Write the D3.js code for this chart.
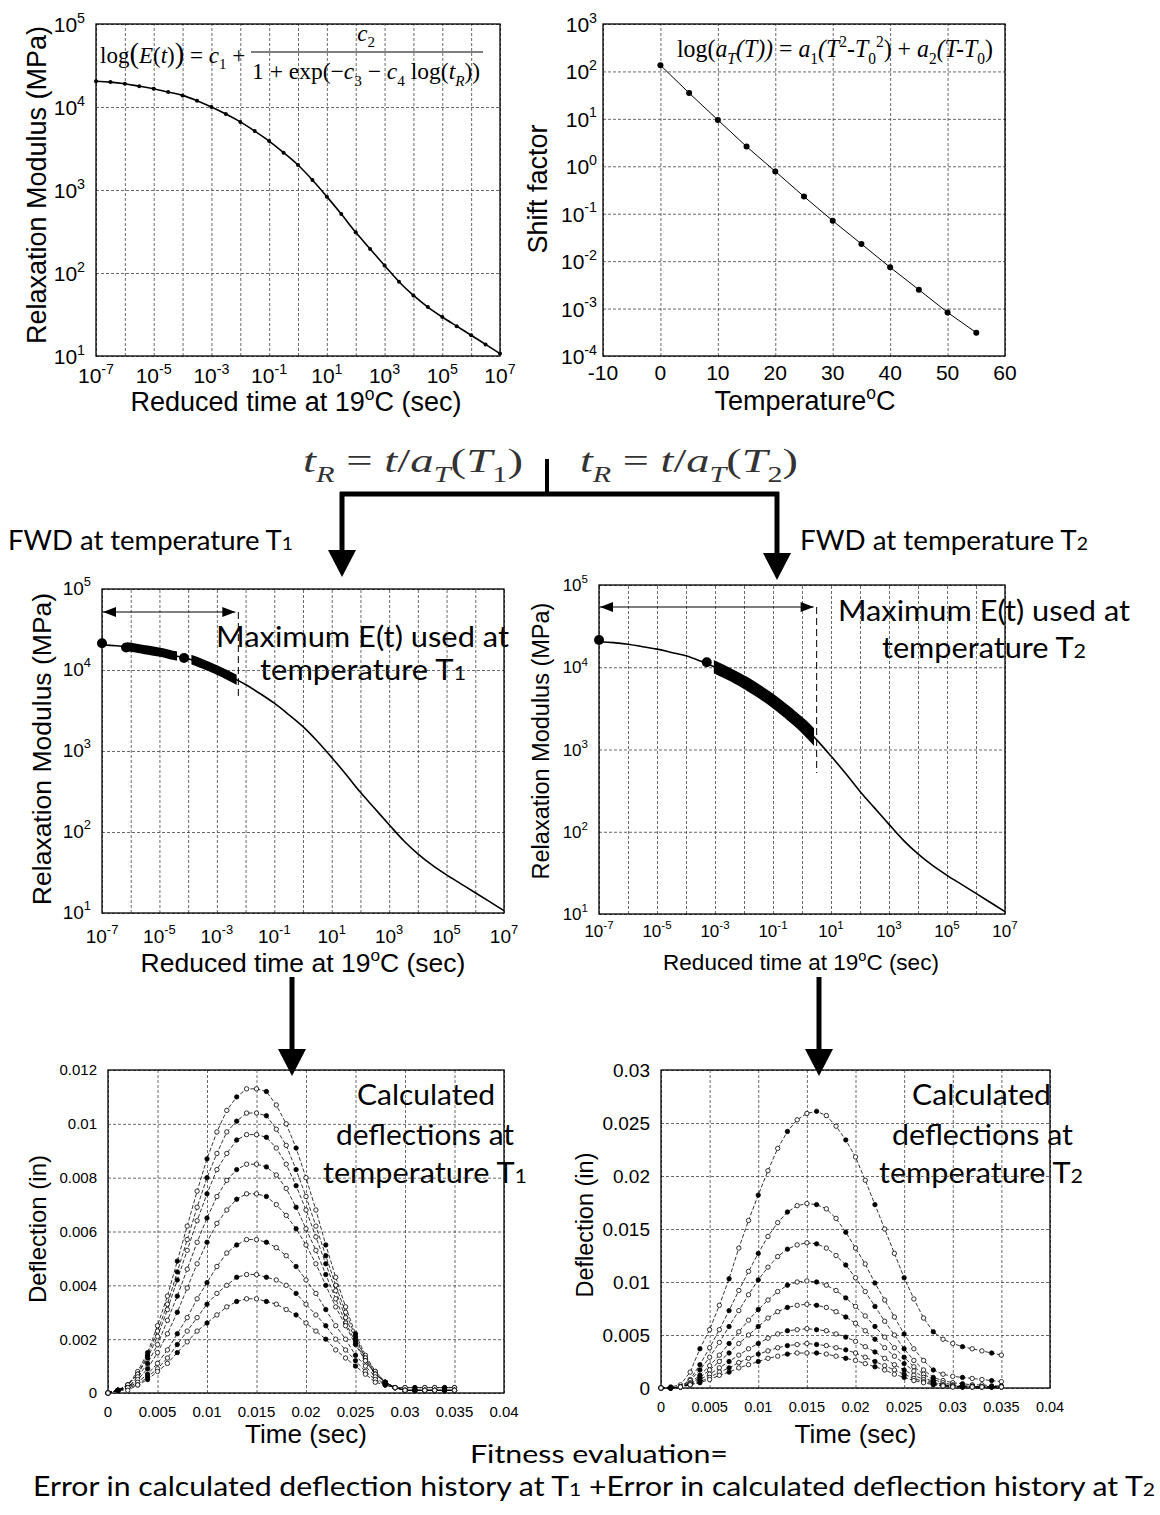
<!DOCTYPE html>
<html>
<head>
<meta charset="utf-8">
<script src="https://cdn.jsdelivr.net/npm/d3@7"></script>
<style>body{margin:0;background:#fff}</style>
</head>
<body>
<script>
// master curve (reduced time in s, relaxation modulus in MPa)
const reducedTime = [1e-7, 3.16e-7, 1e-6, 3.16e-6, 1e-5, 3.16e-5, 1e-4, 3.16e-4, 1e-3, 3.16e-3,
  1e-2, 3.16e-2, 0.1, 0.316, 1, 3.16, 10, 31.6, 100, 316, 1e3, 3.16e3, 1e4, 3.16e4, 1e5, 3.16e5, 1e6, 3.16e6, 1e7];
const relaxModulus = [20400, 19950, 19050, 17780, 16600, 15140, 13800, 11900, 10000, 8220,
  6610, 5130, 3890, 2820, 2000, 1320, 832, 513, 309, 195, 123, 78.5, 53.7, 38.9, 29.5, 22.9, 17.8, 13.8, 10.7];

// shift factor
const temperatures = [0, 5, 10, 15, 20, 25, 30, 35, 40, 45, 50, 55];
const shiftFactor = [135, 35, 9.5, 2.6, 0.78, 0.23, 0.071, 0.023, 0.0074, 0.0025, 0.00083, 0.00031];

// tick exponents
const timeExps = [-7, -6, -5, -4, -3, -2, -1, 0, 1, 2, 3, 4, 5, 6, 7];
const timeLabelExps = [-7, -5, -3, -1, 1, 3, 5, 7];
const modulusExps = [1, 2, 3, 4, 5];
const shiftExps = [-4, -3, -2, -1, 0, 1, 2, 3];
const tempTicks = [-10, 0, 10, 20, 30, 40, 50, 60];

// portions of the master curve used at each temperature
const t1Dots = [{t: 1e-7, E: 21400}, {t: 6.9e-7, E: 19000}, {t: 7.2e-5, E: 14100}];
const t1Bands = [[7.5e-7, 4.1e-5], [1.3e-4, 4.9e-3]];
const t1Limit = 5.6e-3;
const t2Dots = [{t: 1e-7, E: 21400}, {t: 5.2e-4, E: 11500}];
const t2Bands = [[9.1e-4, 2.6]];
const t2Limit = 3.2;

// deflection histories
const deflTime = [0, 0.001, 0.002, 0.003, 0.004, 0.005, 0.006, 0.007, 0.008, 0.009, 0.010, 0.011,
  0.012, 0.013, 0.014, 0.015, 0.016, 0.017, 0.018, 0.019, 0.020, 0.021, 0.022, 0.023,
  0.024, 0.025, 0.026, 0.027, 0.028, 0.029, 0.030, 0.031, 0.032, 0.033, 0.034, 0.035];
const deflT1 = [
  [0, .0001, .0003, .0008, .0015, .0025, .0036, .0049, .0062, .0075, .0087, .0097, .0105, .0110, .0113, .0113, .0112, .0107, .0100, .0091, .0080, .0068, .0055, .0043, .0032, .0022, .0014, .0008, .0004, .0002, .0002, .0002, .0002, .0002, .0002, .0002],
  [0, .0001, .0003, .0007, .0014, .0023, .0033, .0045, .0057, .0069, .0080, .0089, .0097, .0101, .0104, .0104, .0103, .0098, .0092, .0083, .0073, .0062, .0051, .0040, .0030, .0021, .0013, .0008, .0004, .0002, .0002, .0002, .0002, .0002, .0002, .0002],
  [0, .0001, .0003, .0007, .0013, .0021, .0031, .0042, .0053, .0064, .0074, .0083, .0089, .0094, .0096, .0096, .0095, .0091, .0085, .0077, .0068, .0058, .0048, .0038, .0028, .0020, .0013, .0007, .0004, .0002, .0001, .0001, .0001, .0001, .0001, .0001],
  [0, .0001, .0002, .0006, .0011, .0018, .0027, .0036, .0046, .0056, .0065, .0073, .0079, .0083, .0085, .0085, .0084, .0081, .0076, .0069, .0061, .0053, .0044, .0035, .0026, .0019, .0012, .0007, .0004, .0002, .0001, .0001, .0001, .0001, .0001, .0001],
  [0, .0001, .0002, .0005, .0009, .0015, .0022, .0030, .0039, .0048, .0056, .0063, .0068, .0072, .0074, .0074, .0073, .0070, .0066, .0061, .0055, .0048, .0040, .0032, .0025, .0018, .0012, .0007, .0004, .0002, .0001, .0001, .0001, .0001, .0001, .0001],
  [0, .0001, .0002, .0004, .0007, .0011, .0016, .0022, .0028, .0035, .0041, .0047, .0052, .0055, .0057, .0057, .0056, .0054, .0051, .0047, .0042, .0037, .0031, .0025, .0020, .0014, .0010, .0006, .0003, .0002, .0001, .0001, .0001, .0001, .0001, .0001],
  [0, .0001, .0002, .0003, .0006, .0009, .0013, .0018, .0023, .0028, .0033, .0037, .0040, .0043, .0044, .0044, .0043, .0042, .0040, .0037, .0033, .0029, .0025, .0020, .0016, .0012, .0008, .0005, .0003, .0002, .0001, .0001, .0001, .0001, .0001, .0001],
  [0, .0001, .0001, .0003, .0005, .0008, .0011, .0015, .0019, .0023, .0026, .0029, .0032, .0034, .0035, .0035, .0034, .0033, .0031, .0029, .0026, .0023, .0020, .0016, .0013, .0010, .0007, .0004, .0003, .0002, .0001, .0001, .0001, .0001, .0001, .0001]
];
const deflT2 = [
  [0, .0001, .0003, .0015, .0037, .0055, .0078, .0103, .0132, .0158, .0182, .0205, .0226, .0242, .0253, .0259, .0261, .0257, .0247, .0234, .0218, .0196, .0173, .0150, .0127, .0104, .0084, .0066, .0053, .0046, .0042, .0039, .0037, .0035, .0033, .0031],
  [0, 0, .0001, .0008, .0022, .0038, .0055, .0073, .0092, .0110, .0127, .0143, .0156, .0166, .0172, .0174, .0173, .0169, .0160, .0147, .0132, .0117, .0099, .0083, .0067, .0051, .0037, .0026, .0017, .0013, .0011, .0010, .0009, .0008, .0007, .0006],
  [0, 0, .0001, .0007, .0017, .0029, .0043, .0058, .0073, .0088, .0102, .0114, .0124, .0131, .0135, .0137, .0136, .0132, .0125, .0116, .0104, .0091, .0077, .0063, .0050, .0037, .0026, .0017, .0010, .0007, .0005, .0004, .0003, .0003, .0002, .0002],
  [0, 0, .0001, .0005, .0012, .0021, .0031, .0042, .0053, .0064, .0074, .0083, .0091, .0097, .0100, .0101, .0100, .0097, .0092, .0085, .0077, .0068, .0058, .0048, .0038, .0029, .0020, .0013, .0008, .0005, .0003, .0002, .0002, .0001, .0001, .0001],
  [0, 0, .0001, .0004, .0010, .0017, .0025, .0033, .0042, .0050, .0058, .0066, .0072, .0076, .0078, .0079, .0078, .0076, .0072, .0067, .0061, .0054, .0046, .0038, .0030, .0023, .0016, .0010, .0006, .0003, .0002, .0001, .0001, .0001, .0001, .0001],
  [0, 0, .0001, .0004, .0008, .0013, .0019, .0025, .0031, .0037, .0042, .0047, .0051, .0054, .0055, .0056, .0055, .0054, .0051, .0048, .0044, .0039, .0034, .0028, .0022, .0017, .0012, .0008, .0005, .0003, .0002, .0001, .0001, .0001, .0001, .0001],
  [0, 0, .0001, .0003, .0006, .0010, .0015, .0019, .0024, .0028, .0032, .0035, .0038, .0040, .0041, .0042, .0041, .0040, .0038, .0036, .0033, .0029, .0025, .0021, .0017, .0013, .0009, .0006, .0004, .0002, .0001, .0001, .0001, .0001, .0001, .0001],
  [0, 0, .0001, .0003, .0005, .0008, .0012, .0015, .0019, .0022, .0025, .0028, .0030, .0032, .0033, .0033, .0033, .0032, .0030, .0028, .0026, .0023, .0020, .0017, .0013, .0010, .0007, .0005, .0003, .0002, .0001, .0001, .0001, .0001, .0001, .0001]
];
const timeTicks = [0, 0.005, 0.01, 0.015, 0.02, 0.025, 0.03, 0.035, 0.04];
const deflTicksT1 = [0, 0.002, 0.004, 0.006, 0.008, 0.01, 0.012];
const deflTicksT2 = [0, 0.005, 0.01, 0.015, 0.02, 0.025, 0.03];

// ---- drawing ----
const AX = '"Liberation Sans", Arial, sans-serif';
const SERIF = '"Liberation Serif", "Times New Roman", serif';
const NOTE = 'Lato, "Open Sans", sans-serif';

const svg = d3.select('body').append('svg')
  .attr('width', 1160).attr('height', 1515).style('display', 'block');

const masterCurve = reducedTime.map((t, i) => ({t, E: relaxModulus[i]}));

// text with sub/superscripts; parts: {t, i, sub, sup, sm, big}
function rich(g, x, y, parts, o) {
  const t = g.append('text').attr('x', x).attr('y', y)
    .attr('font-family', o.family).attr('font-size', o.size).attr('fill', o.fill || '#000');
  if (o.width) t.attr('textLength', o.width).attr('lengthAdjust', 'spacingAndGlyphs');
  if (o.anchor) t.attr('text-anchor', o.anchor);
  if (o.rotate) t.attr('transform', `rotate(-90,${x},${y})`);
  let shift = 0;
  parts.forEach(p => {
    const target = p.sub ? o.size * 0.28 : p.sup ? -o.size * 0.42 : 0;
    const ts = t.append('tspan').attr('dy', target - shift).text(p.t);
    shift = target;
    if (p.sub || p.sup) ts.attr('font-size', o.size * 0.65);
    if (p.sm) ts.attr('font-size', o.size * 0.7);
    if (p.big) ts.attr('font-size', o.size * 1.25);
    if (p.i) ts.attr('font-style', 'italic');
  });
  return t;
}

function grid(g, x, y, xv, yv, b) {
  const gx = g.append('g').attr('transform', `translate(0,${b.y1})`)
    .call(d3.axisBottom(x).tickValues(xv).tickSize(-(b.y1 - b.y0)).tickFormat(''));
  const gy = g.append('g').attr('transform', `translate(${b.x0},0)`)
    .call(d3.axisLeft(y).tickValues(yv).tickSize(-(b.x1 - b.x0)).tickFormat(''));
  [gx, gy].forEach(a => {
    a.select('.domain').remove();
    a.selectAll('line').attr('stroke', '#444').attr('stroke-width', 0.8).attr('stroke-dasharray', '3,2');
  });
  g.append('rect').attr('x', b.x0).attr('y', b.y0)
    .attr('width', b.x1 - b.x0).attr('height', b.y1 - b.y0)
    .attr('fill', 'none').attr('stroke', '#000').attr('stroke-width', 1.3);
}

function powX(g, x, exps, base, size) {
  g.selectAll(null).data(exps).join('text')
    .attr('x', d => x(Math.pow(10, d))).attr('y', base).attr('text-anchor', 'middle')
    .attr('font-family', AX).attr('font-size', size)
    .each(function(d) {
      const t = d3.select(this);
      t.append('tspan').text('10');
      t.append('tspan').attr('dy', -size * 0.45).attr('font-size', size * 0.68).text(d);
    });
}

function powY(g, y, exps, right, dyBase, size) {
  g.selectAll(null).data(exps).join('text')
    .attr('x', right).attr('y', d => y(Math.pow(10, d)) + dyBase).attr('text-anchor', 'end')
    .attr('font-family', AX).attr('font-size', size)
    .each(function(d) {
      const t = d3.select(this);
      t.append('tspan').text('10');
      t.append('tspan').attr('dy', -size * 0.45).attr('font-size', size * 0.68).text(d);
    });
}

function numLabels(g, scale, ticks, horizontal, pos, size, anchor) {
  g.selectAll(null).data(ticks).join('text')
    .attr('x', d => horizontal ? scale(d) : pos)
    .attr('y', d => horizontal ? pos : scale(d) + size * 0.36)
    .attr('text-anchor', anchor)
    .attr('font-family', AX).attr('font-size', size)
    .text(d => String(d));
}

function modulusChart(b, st) {
  const g = svg.append('g');
  const x = d3.scaleLog().domain([1e-7, 1e7]).range([b.x0, b.x1]);
  const y = d3.scaleLog().domain([10, 1e5]).range([b.y1, b.y0]);
  grid(g, x, y, timeExps.map(e => Math.pow(10, e)), modulusExps.map(e => Math.pow(10, e)), b);
  powX(g, x, timeLabelExps, st.xBase, st.tick);
  powY(g, y, modulusExps, b.x0 - 11, st.yDy, st.tick);
  const line = d3.line().x(d => x(d.t)).y(d => y(d.E)).curve(d3.curveCatmullRom.alpha(0.5));
  g.append('path').datum(masterCurve).attr('d', line)
    .attr('fill', 'none').attr('stroke', '#000').attr('stroke-width', st.lw);
  rich(g, st.yTitle[0], st.yTitle[1], [{t: 'Relaxation Modulus (MPa)'}],
    {family: AX, size: st.yTitleSize, anchor: 'middle', rotate: true});
  rich(g, st.xTitle[0], st.xTitle[1], [{t: 'Reduced time at 19'}, {t: 'o', sup: true}, {t: 'C (sec)'}],
    {family: AX, size: st.xTitleSize, anchor: 'middle'});
  return {g, x, y, line};
}

function highlight(c, b, bands, dots, limit, bandW, arrowY, dashEnd, id) {
  bands.forEach((bd, i) => {
    c.g.append('clipPath').attr('id', id + i).append('rect')
      .attr('x', c.x(bd[0])).attr('width', c.x(bd[1]) - c.x(bd[0]))
      .attr('y', b.y0).attr('height', b.y1 - b.y0);
    c.g.append('path').datum(masterCurve).attr('d', c.line)
      .attr('clip-path', `url(#${id + i})`)
      .attr('fill', 'none').attr('stroke', '#000').attr('stroke-width', bandW);
  });
  c.g.selectAll(null).data(dots).join('circle')
    .attr('cx', d => c.x(d.t)).attr('cy', d => c.y(d.E)).attr('r', 5).attr('fill', '#000');
  const xa = c.x(1e-7) + 1, xb = c.x(limit) - 3;
  c.g.append('line').attr('x1', xa).attr('x2', xb).attr('y1', arrowY).attr('y2', arrowY)
    .attr('stroke', '#000').attr('stroke-width', 1);
  c.g.append('path').attr('d', `M${xa},${arrowY}l13,-5v10z M${xb},${arrowY}l-13,-5v10z`).attr('fill', '#000');
  c.g.append('line').attr('x1', c.x(limit)).attr('x2', c.x(limit)).attr('y1', arrowY).attr('y2', dashEnd)
    .attr('stroke', '#000').attr('stroke-width', 1).attr('stroke-dasharray', '7,4');
}

function deflChart(b, series, ticks, st) {
  const g = svg.append('g');
  const x = d3.scaleLinear().domain([0, 0.04]).range([b.x0, b.x1]);
  const y = d3.scaleLinear().domain([0, ticks[ticks.length - 1]]).range([b.y1, b.y0]);
  grid(g, x, y, timeTicks, ticks, b);
  numLabels(g, x, timeTicks, true, st.xBase, st.xTick, 'middle');
  numLabels(g, y, ticks, false, b.x0 - 11, st.yTick, 'end');
  const line = d3.line().x(d => x(d.t)).y(d => y(d.v));
  series.forEach(s => {
    const pts = deflTime.map((t, i) => ({t, v: s[i]}));
    g.append('path').datum(pts).attr('d', line).attr('fill', 'none')
      .attr('stroke', '#000').attr('stroke-width', 0.8).attr('stroke-dasharray', '4,2');
    g.selectAll(null).data(pts).join('circle')
      .attr('cx', d => x(d.t)).attr('cy', d => y(d.v)).attr('r', 2.2)
      .attr('fill', (d, i) => i % 3 === 1 ? '#000' : '#fff')
      .attr('stroke', '#000').attr('stroke-width', 0.8);
  });
  rich(g, st.yTitle[0], st.yTitle[1], [{t: 'Deflection (in)'}],
    {family: AX, size: st.yTitleSize, anchor: 'middle', rotate: true});
  rich(g, (b.x0 + b.x1) / 2, st.xTitleBase, [{t: 'Time (sec)'}], {family: AX, size: 26, anchor: 'middle'});
  return g;
}

// ---- top left: master curve ----
const b1 = {x0: 96, x1: 500, y0: 24, y1: 356};
const c1 = modulusChart(b1, {xBase: 383, yDy: 8, tick: 21, lw: 1.6,
  yTitle: [46, 185], yTitleSize: 27, xTitle: [296, 411], xTitleSize: 27});
c1.g.selectAll(null).data(masterCurve).join('circle')
  .attr('cx', d => c1.x(d.t)).attr('cy', d => c1.y(d.E)).attr('r', 2).attr('fill', '#000');
rich(c1.g, 100, 63, [{t: 'log'}, {t: '(', big: true}, {t: 'E', i: true}, {t: '('}, {t: 't', i: true}, {t: ')'},
  {t: ')', big: true}, {t: ' = '}, {t: 'c', i: true}, {t: '1', sub: true}, {t: ' +'}],
  {family: SERIF, size: 23});
c1.g.append('line').attr('x1', 251).attr('x2', 483).attr('y1', 52).attr('y2', 52).attr('stroke', '#000').attr('stroke-width', 1.2);
rich(c1.g, 366, 41, [{t: 'c', i: true}, {t: '2', sub: true}], {family: SERIF, size: 23, anchor: 'middle'});
rich(c1.g, 252, 79, [{t: '1 + exp(−'}, {t: 'c', i: true}, {t: '3', sub: true}, {t: ' − '}, {t: 'c', i: true},
  {t: '4', sub: true}, {t: ' log('}, {t: 't', i: true}, {t: 'R', sub: true, i: true}, {t: '))'}],
  {family: SERIF, size: 23.5});

// ---- top right: shift factor ----
const b2 = {x0: 603, x1: 1005, y0: 24, y1: 356};
{
  const g = svg.append('g');
  const x = d3.scaleLinear().domain([-10, 60]).range([b2.x0, b2.x1]);
  const y = d3.scaleLog().domain([1e-4, 1e3]).range([b2.y1, b2.y0]);
  grid(g, x, y, tempTicks, shiftExps.map(e => Math.pow(10, e)), b2);
  numLabels(g, x, tempTicks, true, 380, 21, 'middle');
  powY(g, y, shiftExps, b2.x0 - 6, 8, 21);
  const pts = temperatures.map((T, i) => ({T, a: shiftFactor[i]}));
  g.append('path').datum(pts).attr('d', d3.line().x(d => x(d.T)).y(d => y(d.a)))
    .attr('fill', 'none').attr('stroke', '#000').attr('stroke-width', 1);
  g.selectAll(null).data(pts).join('circle')
    .attr('cx', d => x(d.T)).attr('cy', d => y(d.a)).attr('r', 3).attr('fill', '#000');
  rich(g, 547, 189, [{t: 'Shift factor'}], {family: AX, size: 27, anchor: 'middle', rotate: true});
  rich(g, 805, 410, [{t: 'Temperature'}, {t: 'o', sup: true}, {t: 'C'}], {family: AX, size: 27, anchor: 'middle'});
  rich(g, 677, 57, [{t: 'log('}, {t: 'a', i: true}, {t: 'T', sub: true, i: true}, {t: '(T))', i: true}, {t: ' = '},
    {t: 'a', i: true}, {t: '1', sub: true}, {t: '(T', i: true}, {t: '2', sup: true}, {t: '-T', i: true}, {t: '0', sub: true},
    {t: '2', sup: true}, {t: ') + '}, {t: 'a', i: true}, {t: '2', sub: true}, {t: '(T-T', i: true}, {t: '0', sub: true}, {t: ')'}],
    {family: SERIF, size: 25, width: 316});
}

// ---- flow between the rows ----
const flow = svg.append('g').attr('fill', '#000').attr('stroke', '#000');
function arrowDown(x, yTop, yTip, w) {
  flow.append('line').attr('x1', x).attr('x2', x).attr('y1', yTop).attr('y2', yTip - 26).attr('stroke-width', w);
  flow.append('path').attr('stroke', 'none').attr('d', `M${x - 14},${yTip - 27}H${x + 14}L${x},${yTip}Z`);
}
flow.append('line').attr('x1', 547).attr('x2', 547).attr('y1', 459).attr('y2', 494).attr('stroke-width', 4);
flow.append('line').attr('x1', 340).attr('x2', 779).attr('y1', 494).attr('y2', 494).attr('stroke-width', 5);
arrowDown(342, 492, 577, 5);
arrowDown(777, 492, 580, 5);
arrowDown(292, 977, 1076, 5);
arrowDown(819, 977, 1076, 5);

const notes = svg.append('g');
rich(notes, 303, 472, [{t: 't', i: true}, {t: 'R', sub: true, i: true}, {t: ' = '}, {t: 't', i: true}, {t: '/'},
  {t: 'a', i: true}, {t: 'T', sub: true, i: true}, {t: '('}, {t: 'T', i: true}, {t: '1', sub: true}, {t: ')'}],
  {family: SERIF, size: 34, width: 220, fill: '#333'});
rich(notes, 580, 472, [{t: 't', i: true}, {t: 'R', sub: true, i: true}, {t: ' = '}, {t: 't', i: true}, {t: '/'},
  {t: 'a', i: true}, {t: 'T', sub: true, i: true}, {t: '('}, {t: 'T', i: true}, {t: '2', sub: true}, {t: ')'}],
  {family: SERIF, size: 34, width: 218, fill: '#333'});
rich(notes, 8, 550, [{t: 'FWD at temperature T'}, {t: '1', sm: true}], {family: NOTE, size: 26, width: 285});
rich(notes, 800, 550, [{t: 'FWD at temperature T'}, {t: '2', sm: true}], {family: NOTE, size: 26, width: 288});

// ---- middle row: portions of the master curve ----
const b3 = {x0: 102, x1: 504, y0: 589, y1: 913};
const c3 = modulusChart(b3, {xBase: 943, yDy: 6, tick: 19, lw: 1.6,
  yTitle: [51, 749], yTitleSize: 26.5, xTitle: [303, 972], xTitleSize: 26.5});
highlight(c3, b3, t1Bands, t1Dots, t1Limit, 9, 612, 698, 'band1_');
rich(notes, 216, 647, [{t: 'Maximum E(t) used at'}], {family: NOTE, size: 28, width: 293});
rich(notes, 260, 680, [{t: 'temperature T'}, {t: '1', sm: true}], {family: NOTE, size: 28, width: 206});

const b4 = {x0: 599, x1: 1005, y0: 585, y1: 914};
const c4 = modulusChart(b4, {xBase: 937, yDy: 6, tick: 17, lw: 1.6,
  yTitle: [549, 741], yTitleSize: 23.5, xTitle: [801, 970], xTitleSize: 22.5});
highlight(c4, b4, t2Bands, t2Dots, t2Limit, 12, 607, 773, 'band2_');
rich(notes, 838, 621, [{t: 'Maximum E(t) used at'}], {family: NOTE, size: 28, width: 292});
rich(notes, 882, 658, [{t: 'temperature T'}, {t: '2', sm: true}], {family: NOTE, size: 28, width: 204});

// ---- bottom row: deflection histories ----
const b5 = {x0: 108, x1: 504, y0: 1070, y1: 1393};
deflChart(b5, deflT1, deflTicksT1, {xBase: 1417, xTick: 15, yTick: 15, yTitle: [46, 1229], yTitleSize: 24, xTitleBase: 1443});
const b6 = {x0: 661, x1: 1050, y0: 1070, y1: 1388};
deflChart(b6, deflT2, deflTicksT2, {xBase: 1412, xTick: 14.5, yTick: 19, yTitle: [593, 1225], yTitleSize: 23.5, xTitleBase: 1443});

rich(notes, 357, 1105, [{t: 'Calculated'}], {family: NOTE, size: 28, width: 138});
rich(notes, 336, 1145, [{t: 'deflections at'}], {family: NOTE, size: 28, width: 178});
rich(notes, 323, 1183, [{t: 'temperature T'}, {t: '1', sm: true}], {family: NOTE, size: 28, width: 204});
rich(notes, 912, 1105, [{t: 'Calculated'}], {family: NOTE, size: 28, width: 139});
rich(notes, 892, 1145, [{t: 'deflections at'}], {family: NOTE, size: 28, width: 181});
rich(notes, 879, 1183, [{t: 'temperature T'}, {t: '2', sm: true}], {family: NOTE, size: 28, width: 204});

rich(notes, 470, 1463, [{t: 'Fitness evaluation='}], {family: NOTE, size: 25, width: 258});
rich(notes, 33, 1496, [{t: 'Error in calculated deflection history at T'}, {t: '1', sm: true},
  {t: ' +Error in calculated deflection history at T'}, {t: '2', sm: true}], {family: NOTE, size: 26, width: 1122});
</script>
</body>
</html>
